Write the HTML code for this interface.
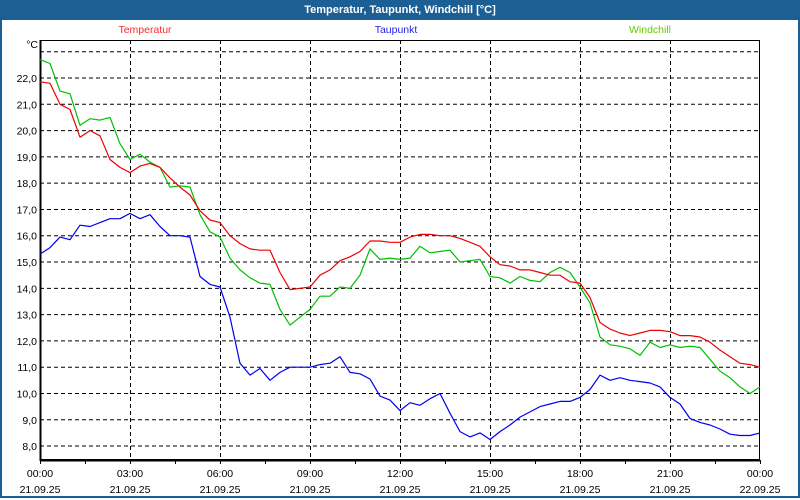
<!DOCTYPE html>
<html><head><meta charset="utf-8">
<style>
html,body{margin:0;padding:0;background:#fff;}
#wrap{position:relative;width:800px;height:500px;overflow:hidden;background:#fff;font-family:"Liberation Sans",sans-serif;}
#frame{position:absolute;left:0;top:0;width:796px;height:496px;border:2px solid #1c5f95;border-top:none;}
#title{position:absolute;left:0;top:0;width:800px;height:20px;background:#1c5f95;color:#fff;font-weight:bold;font-size:11px;line-height:20px;text-align:center;}
svg{position:absolute;left:0;top:0;}
text{font-family:"Liberation Sans",sans-serif;font-size:10.5px;}
</style></head>
<body>
<div id="wrap">
<div id="frame"></div>
<div id="title">Temperatur, Taupunkt, Windchill [°C]</div>
<svg id="chart" width="800" height="500"></svg>
</div>
<script>
const timeLabels = ["00:00","03:00","06:00","09:00","12:00","15:00","18:00","21:00","00:00"];
const dateLabels = ["21.09.25","21.09.25","21.09.25","21.09.25","21.09.25","21.09.25","21.09.25","21.09.25","22.09.25"];
const yTicks = [8,9,10,11,12,13,14,15,16,17,18,19,20,21,22];
const temperatur = [21.86,21.8,21.0,20.8,19.75,20.0,19.8,18.9,18.6,18.4,18.65,18.75,18.6,18.2,17.85,17.55,16.95,16.6,16.5,16.0,15.7,15.5,15.45,15.45,14.6,13.95,14.0,14.05,14.5,14.7,15.05,15.2,15.4,15.8,15.8,15.75,15.75,15.95,16.05,16.05,16.0,16.0,15.9,15.75,15.6,15.2,14.9,14.85,14.7,14.7,14.6,14.5,14.5,14.25,14.2,13.65,12.7,12.45,12.3,12.2,12.3,12.4,12.4,12.35,12.2,12.2,12.15,11.95,11.65,11.4,11.15,11.1,11.0];
const windchill = [22.7,22.55,21.5,21.4,20.2,20.45,20.4,20.5,19.5,18.9,19.1,18.8,18.6,17.85,17.9,17.85,16.8,16.15,15.95,15.15,14.7,14.4,14.2,14.15,13.2,12.6,12.9,13.2,13.7,13.7,14.05,14.0,14.5,15.5,15.1,15.15,15.1,15.15,15.6,15.35,15.4,15.45,15.0,15.05,15.1,14.45,14.4,14.2,14.45,14.3,14.25,14.6,14.8,14.6,14.05,13.45,12.15,11.85,11.8,11.7,11.45,11.95,11.75,11.85,11.75,11.8,11.75,11.3,10.85,10.6,10.25,10.0,10.25];
const taupunkt = [15.3,15.55,15.95,15.85,16.4,16.35,16.5,16.65,16.65,16.85,16.65,16.8,16.35,16.0,16.0,15.95,14.45,14.15,14.05,12.9,11.15,10.7,10.95,10.5,10.8,11.0,11.0,11.0,11.1,11.15,11.4,10.8,10.75,10.55,9.9,9.75,9.35,9.65,9.55,9.8,10.0,9.25,8.55,8.35,8.5,8.25,8.55,8.8,9.1,9.3,9.5,9.6,9.7,9.7,9.85,10.15,10.7,10.5,10.6,10.5,10.45,10.4,10.25,9.85,9.6,9.05,8.9,8.8,8.65,8.45,8.4,8.4,8.5];

const NS="http://www.w3.org/2000/svg";
const svg=document.getElementById('chart');
const L=40,R=760,T=40,B=460;
const hoursTotal=24;
function xScale(h){return L+(R-L)*h/hoursTotal;}
function yScale(v){return 78+(22-v)*26.29;}
function mk(tag,attrs){const e=document.createElementNS(NS,tag);for(const k in attrs)e.setAttribute(k,attrs[k]);svg.appendChild(e);return e;}

for(let v=8;v<=23;v++){
  const g=mk('line',{x1:L,x2:R,y1:yScale(v),y2:yScale(v),stroke:'#000','stroke-width':1,'stroke-dasharray':'4,3'});
  
  
}
for(let i=1;i<timeLabels.length-1;i++){
  const x=Math.round(xScale(i*3))+0.5;
  const g=mk('line',{x1:x,x2:x,y1:T,y2:B,stroke:'#000','stroke-width':1,'stroke-dasharray':'4,3'});
  
  
}
const box=mk('rect',{x:L+0.5,y:T+0.5,width:R-L-1,height:B-T-1,fill:'none',stroke:'#000','stroke-width':1});


const lax=mk('line',{x1:L+0.5,x2:L+0.5,y1:T,y2:B+1,stroke:'#000','stroke-width':2});


const bax=mk('line',{x1:L,x2:R,y1:B+0.5,y2:B+0.5,stroke:'#000','stroke-width':2});


for(let h=0;h<=24;h+=1.5){
  const x=Math.round(xScale(h))+0.5;
  const t=mk('line',{x1:x,x2:x,y1:B,y2:B+4,stroke:'#000','stroke-width':1});
  
  
}
for(let i=0;i<timeLabels.length;i++){
  const x=xScale(i*3);
  const a=mk('text',{x:x,y:477,'text-anchor':'middle',fill:'#000'});a.textContent=timeLabels[i];
  
  
  const b=mk('text',{x:x,y:493,'text-anchor':'middle',fill:'#000'});b.textContent=dateLabels[i];
  
  
}
for(const v of yTicks){
  const t=mk('text',{x:37,y:yScale(v)+4,'text-anchor':'end',fill:'#000'});t.textContent=v.toFixed(1).replace('.',',');
  
  
}
const unit=mk('text',{x:38,y:48,'text-anchor':'end',fill:'#000'});unit.textContent='°C';


const leg=[['Temperatur','#ff2a2a',145],['Taupunkt','#2222ee',396],['Windchill','#66cc00',650]];
for(const [n,c,x] of leg){
  const t=mk('text',{x:x,y:33,'text-anchor':'middle',fill:c});t.textContent=n;
  t.style.fill=c;
  
  
}
function series(arr,color,name){
  const step=hoursTotal/(arr.length-1);
  const pts=arr.map((v,i)=>xScale(i*step).toFixed(1)+','+yScale(v).toFixed(1)).join(' ');
  const p=mk('polyline',{points:pts,fill:'none',stroke:color,'stroke-width':1.2,'stroke-linejoin':'round'});
  
  
}
series(taupunkt,'#0000ee','taupunkt-line');
series(windchill,'#00c000','windchill-line');
series(temperatur,'#ee0000','temperatur-line');
</script>
</body></html>
